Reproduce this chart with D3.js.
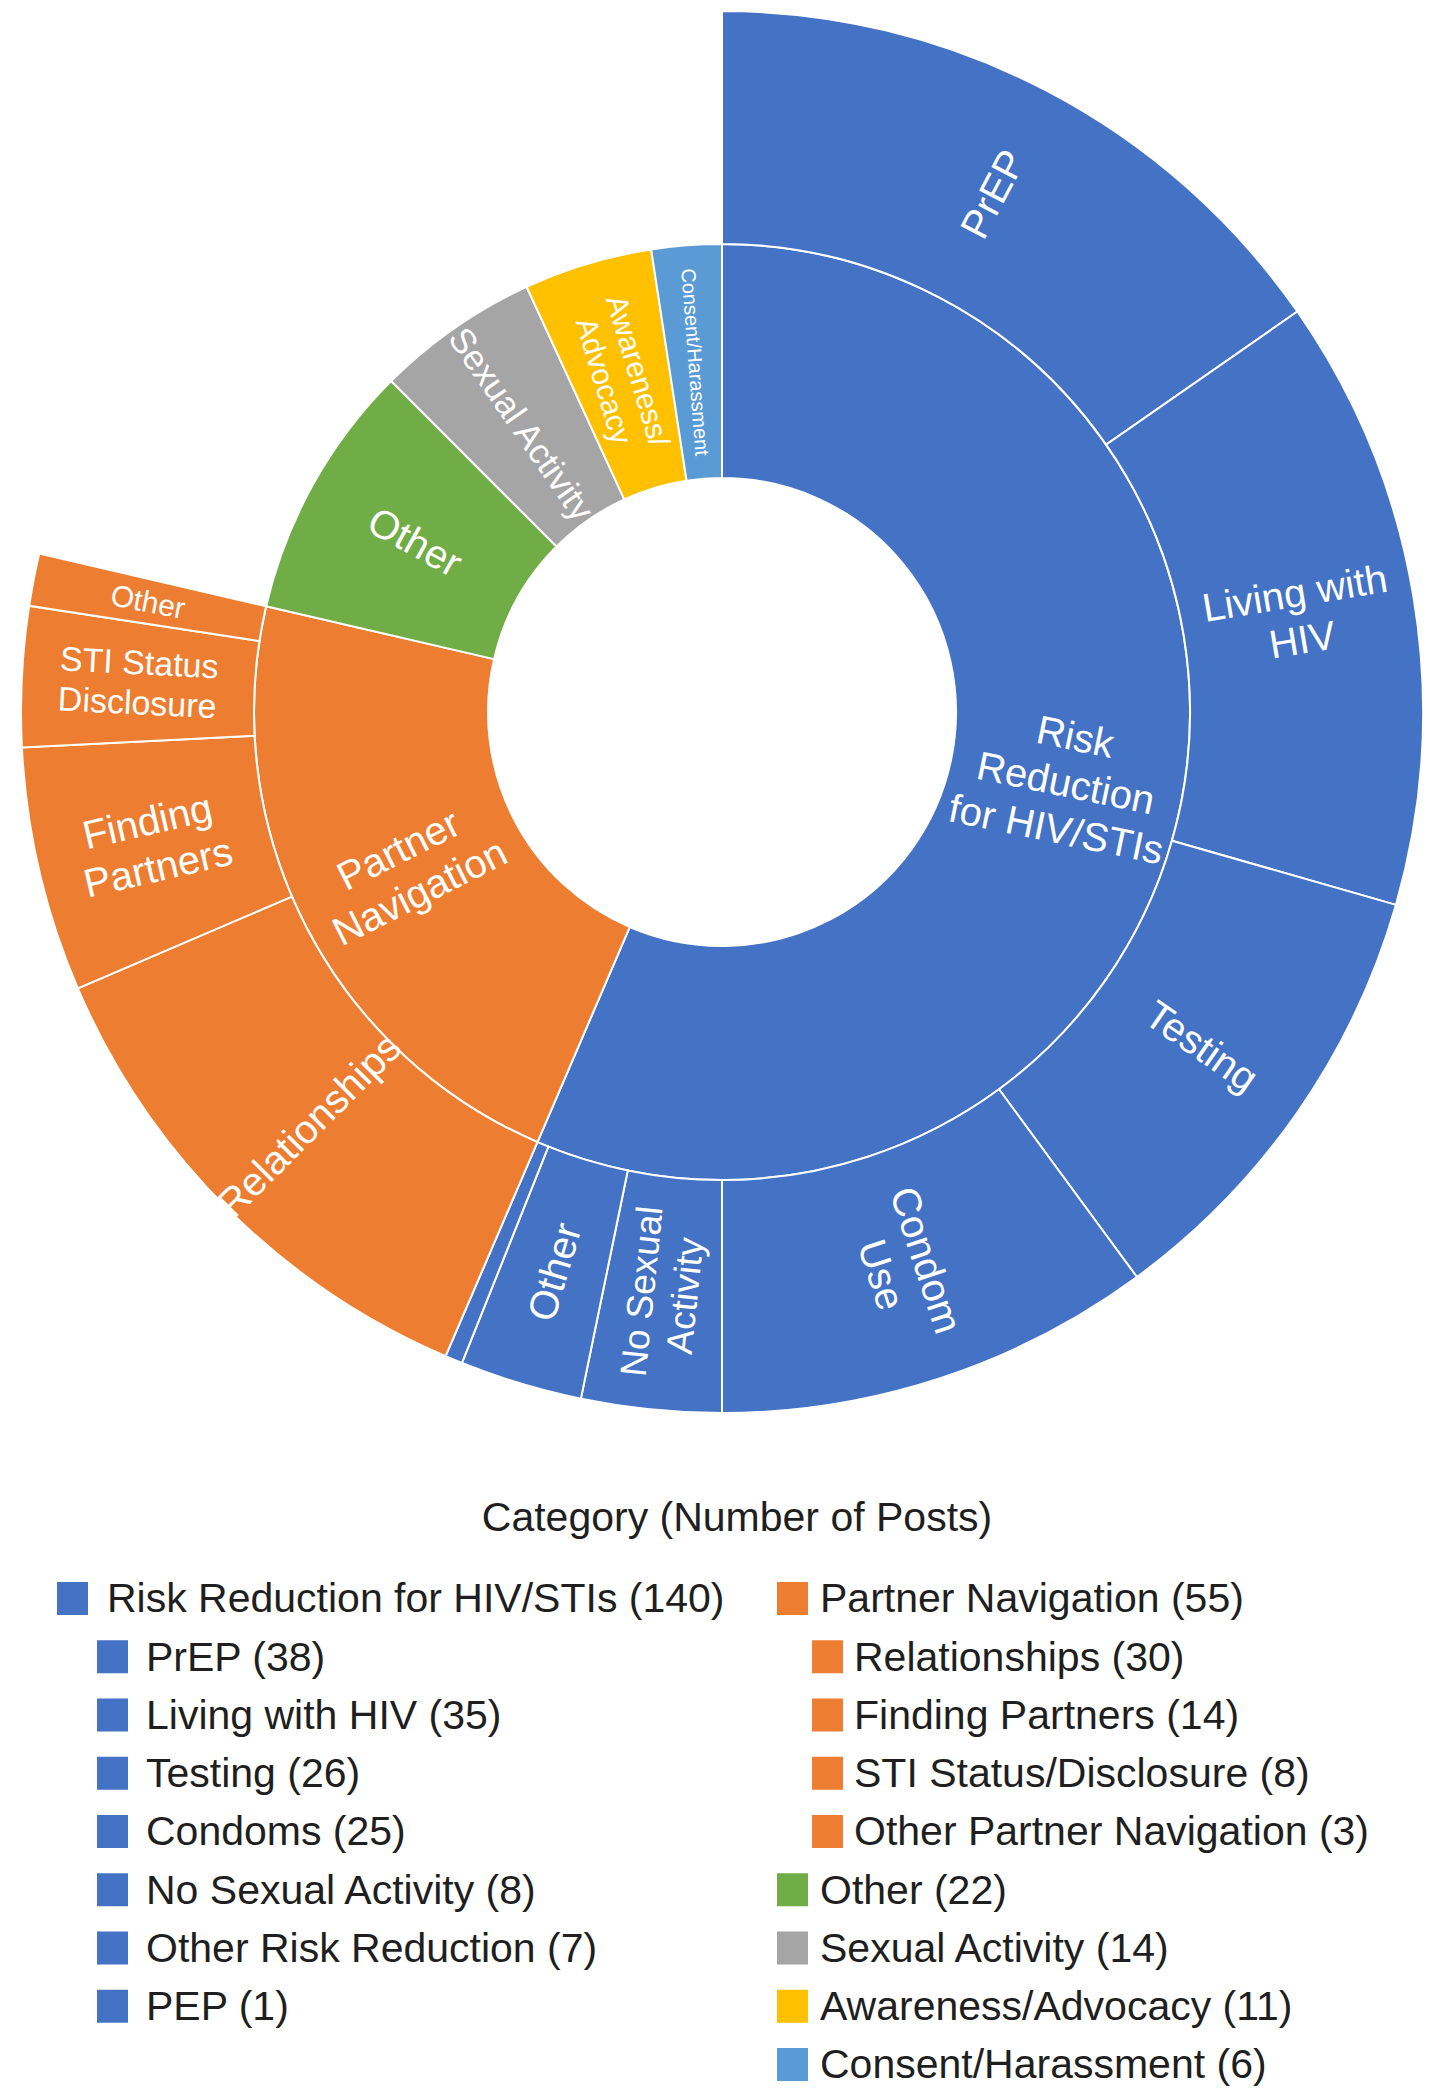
<!DOCTYPE html>
<html>
<head>
<meta charset="utf-8">
<script src="https://cdn.jsdelivr.net/npm/d3@7"></script>
<style>
  body { margin: 0; background: #fff; }
  svg { display: block; }
</style>
</head>
<body>
<div id="chart"></div>
<script>
// top level categories (inner ring)
const categories = ["Risk Reduction for HIV/STIs", "Partner Navigation", "Other", "Sexual Activity", "Awareness/Advocacy", "Consent/Harassment"];
const categoryCounts = [140, 55, 22, 14, 11, 6];
const categoryColors = ["#4472C4", "#ED7D31", "#70AD47", "#A5A5A5", "#FFC000", "#5B9BD5"];

// sub categories (outer ring)
const riskSubcats = ["PrEP", "Living with HIV", "Testing", "Condoms", "No Sexual Activity", "Other Risk Reduction", "PEP"];
const riskCounts = [38, 35, 26, 25, 8, 7, 1];
const partnerSubcats = ["Relationships", "Finding Partners", "STI Status/Disclosure", "Other Partner Navigation"];
const partnerCounts = [30, 14, 8, 3];

const legendTitle = "Category (Number of Posts)";

// text written inside the wedges (PEP is too thin, no label)
const ringLabels = {
    "Risk Reduction for HIV/STIs": ["Risk", "Reduction", "for HIV/STIs"],
    "Partner Navigation": ["Partner", "Navigation"],
    "Other": ["Other"],
    "Sexual Activity": ["Sexual Activity"],
    "Awareness/Advocacy": ["Awareness/", "Advocacy"],
    "Consent/Harassment": ["Consent/Harassment"],
    "PrEP": ["PrEP"],
    "Living with HIV": ["Living with", "HIV"],
    "Testing": ["Testing"],
    "Condoms": ["Condom", "Use"],
    "No Sexual Activity": ["No Sexual", "Activity"],
    "Other Risk Reduction": ["Other"],
    "Relationships": ["Relationships"],
    "Finding Partners": ["Finding", "Partners"],
    "STI Status/Disclosure": ["STI Status", "Disclosure"],
    "Other Partner Navigation": ["Other"]
};

const labelSizes = {
    "Consent/Harassment": 20,
    "Awareness/Advocacy": 30,
    "Sexual Activity": 35,
    "STI Status/Disclosure": 34,
    "Other Partner Navigation": 30,
    "No Sexual Activity": 37
};

const font = "'Liberation Sans', Arial, sans-serif";
const width = 1437, height = 2100;
const cx = 722, cy = 712;

const subs = {
    0: [riskSubcats, riskCounts],
    1: [partnerSubcats, partnerCounts]
};

const treeData = {
    name: "root",
    children: categories.map((c, i) => {
        const node = { name: c, color: categoryColors[i] };
        if (subs[i])
            node.children = subs[i][0].map((s, j) => ({ name: s, count: subs[i][1][j] }));
        else
            node.count = categoryCounts[i];
        return node;
    })
};

const root = d3.hierarchy(treeData).sum(d => d.children ? 0 : (d.count || 0));
d3.partition().size([2 * Math.PI, 3])(root);

const radius = d3.scaleLinear().domain([1, 2, 3]).range([234, 468, 701]);

const arc = d3.arc()
    .startAngle(d => d.x0)
    .endAngle(d => d.x1)
    .innerRadius(d => radius(d.y0))
    .outerRadius(d => radius(d.y1));

const svg = d3.select("#chart")
    .append("svg")
    .attr("width", width)
    .attr("height", height);

const g = svg.append("g").attr("transform", `translate(${cx},${cy})`);

const nodes = root.descendants().filter(d => d.depth > 0);

g.selectAll("path")
    .data(nodes)
    .enter()
    .append("path")
    .attr("d", arc)
    .attr("fill", d => d.depth === 1 ? d.data.color : d.parent.data.color)
    .attr("stroke", "#fff")
    .attr("stroke-width", 2);

// labels, rotated along the radius and flipped on the left half
const labelled = nodes.filter(d => ringLabels[d.data.name]);

g.selectAll(".ring-label")
    .data(labelled)
    .enter()
    .append("text")
    .attr("class", "ring-label")
    .attr("transform", d => {
        const a = (d.x0 + d.x1) / 2;
        const r = radius((d.y0 + d.y1) / 2);
        const deg = a * 180 / Math.PI;
        const rot = deg < 180 ? deg - 90 : deg + 90;
        return `translate(${r * Math.sin(a)},${-r * Math.cos(a)}) rotate(${rot})`;
    })
    .attr("text-anchor", "middle")
    .style("font-family", font)
    .style("font-size", d => (labelSizes[d.data.name] || 40) + "px")
    .attr("fill", "#fff")
    .each(function (d) {
        const lines = ringLabels[d.data.name];
        const fs = labelSizes[d.data.name] || 40;
        const lh = fs * 1.18;
        const text = d3.select(this);
        lines.forEach((line, i) => {
            text.append("tspan")
                .attr("x", 0)
                .attr("y", (i - (lines.length - 1) / 2) * lh + fs * 0.35)
                .text(line);
        });
    });

// legend
svg.append("text")
    .attr("x", 737)
    .attr("y", 1517)
    .attr("dy", "0.35em")
    .attr("text-anchor", "middle")
    .style("font-family", font)
    .style("font-size", "41px")
    .attr("fill", "#1f1f1f")
    .text(legendTitle);

const leftItems = [{ name: categories[0], count: categoryCounts[0], color: categoryColors[0], sub: false }]
    .concat(riskSubcats.map((s, i) => ({ name: s, count: riskCounts[i], color: categoryColors[0], sub: true })));
const rightItems = [{ name: categories[1], count: categoryCounts[1], color: categoryColors[1], sub: false }]
    .concat(partnerSubcats.map((s, i) => ({ name: s, count: partnerCounts[i], color: categoryColors[1], sub: true })))
    .concat(categories.slice(2).map((c, i) => ({ name: c, count: categoryCounts[i + 2], color: categoryColors[i + 2], sub: false })));

const rowY = d3.scaleLinear().domain([0, 8]).range([1598, 2064]);

function drawColumn(items, boxX, subBoxX, textX, subTextX) {
    const rows = svg.append("g")
        .selectAll("g")
        .data(items)
        .enter()
        .append("g")
        .attr("transform", (d, i) => `translate(0,${rowY(i)})`);

    rows.append("rect")
        .attr("x", d => d.sub ? subBoxX : boxX)
        .attr("y", -16)
        .attr("width", 31)
        .attr("height", 33)
        .attr("fill", d => d.color);

    rows.append("text")
        .attr("x", d => d.sub ? subTextX : textX)
        .attr("dy", "0.35em")
        .style("font-family", font)
        .style("font-size", "41px")
        .attr("fill", "#1f1f1f")
        .text(d => `${d.name} (${d.count})`);
}

drawColumn(leftItems, 57, 97, 107, 146);
drawColumn(rightItems, 777, 812, 820, 854);
</script>
</body>
</html>
